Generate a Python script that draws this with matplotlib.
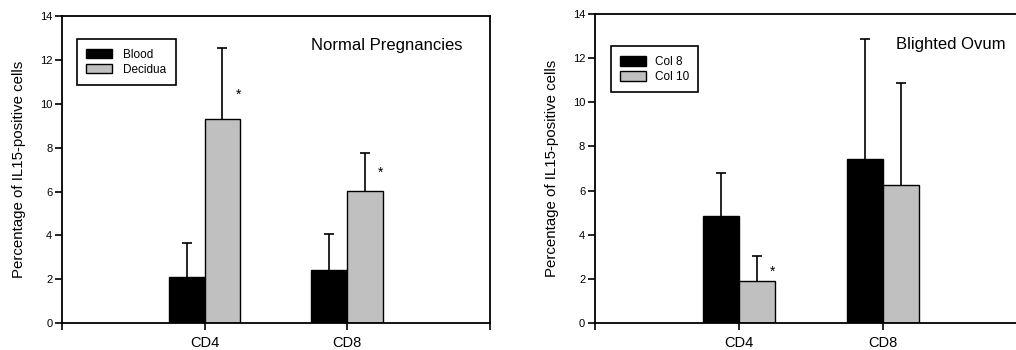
import matplotlib
matplotlib.use("Agg")
import matplotlib.pyplot as plt
import numpy as np

plt.rcParams['font.family'] = ['Liberation Sans', 'DejaVu Sans']

categories = ["CD4", "CD8"]

# Left panel: Normal Pregnancies
left_title = "Normal Pregnancies"
left_series = ["Blood", "Decidua"]
blood = [2.12, 2.40]
blood_err = [1.51, 1.68]
decidua = [9.30, 6.01]
decidua_err = [3.25, 1.73]
left_star_y = [10.4, 6.85]

# Right panel: Blighted Ovum
right_title = "Blighted Ovum"
right_series = ["Col 8", "Col 10"]
col8 = [4.83, 7.44]
col8_err = [1.96, 5.41]
col10 = [1.89, 6.24]
col10_err = [1.17, 4.62]
right_star_y = [2.34]

ylabel = "Percentage of IL15-positive cells"
yticks = [0, 2, 4, 6, 8, 10, 12, 14]

fig = plt.figure(figsize=(10.16, 3.5), dpi=100)

def upper_err(ax, xs, vals, errs):
    eb = ax.errorbar(xs, vals, yerr=[np.zeros(len(vals)), errs], fmt="none", ecolor="black",
                     elinewidth=1.2, capsize=3.5, capthick=1.2, zorder=1)
    caps = eb[1]
    if len(caps) >= 1:
        caps[0].set_visible(False)

def panel(rect, s1, e1, s2, e2, names, title, title_xy, legend_bbox, stars, star_idx, tpad):
    ax = fig.add_axes(rect)
    x = np.arange(1, len(categories) + 1)
    w = 0.25
    ax.bar(x - w / 2, s1, w, color="black", edgecolor="black", linewidth=1.0, label=names[0], zorder=2)
    ax.bar(x + w / 2, s2, w, color="#C0C0C0", edgecolor="black", linewidth=1.0, label=names[1], zorder=2)
    upper_err(ax, x - w / 2, s1, e1)
    upper_err(ax, x + w / 2, s2, e2)
    for i, sy in zip(star_idx, stars):
        ax.text(x[i] + w / 2 + 0.11, sy, "*", ha="center", va="center", fontsize=10)
    ax.set_xlim(0, 3)
    ax.set_ylim(0, 14)
    ax.set_yticks(yticks)
    ax.set_yticklabels([str(t) for t in yticks], fontsize=8)
    ax.set_xticks([0, 1, 2, 3])
    ax.set_xticklabels(["", categories[0], categories[1], ""], fontsize=10.5)
    ax.tick_params(axis="both", direction="out", length=5, width=1.2)
    ax.tick_params(axis="x", pad=4)
    ax.tick_params(axis="y", pad=2)
    for sp in ax.spines.values():
        sp.set_linewidth(1.3)
    ax.set_ylabel(ylabel, fontsize=10.8, labelpad=10)
    ax.text(title_xy[0], title_xy[1], title, transform=ax.transAxes, fontsize=12,
            ha="left", va="center")
    leg = ax.legend(loc="upper left", bbox_to_anchor=legend_bbox, fontsize=8.5,
                    fancybox=False, framealpha=1, edgecolor="black",
                    handlelength=2.2, handleheight=0.9, borderpad=0.8,
                    labelspacing=0.25, handletextpad=tpad, borderaxespad=0)
    leg.get_frame().set_linewidth(1.2)
    return ax

panel([0.061, 0.077, 0.421, 0.877], blood, blood_err, decidua, decidua_err,
      left_series, left_title, (0.582, 0.905), (0.035, 0.925), left_star_y, [0, 1], 0.9)
panel([0.5856, 0.077, 0.425, 0.883], col8, col8_err, col10, col10_err,
      right_series, right_title, (0.697, 0.90), (0.037, 0.895), right_star_y, [0], 0.7)

fig.savefig("out.png", dpi=100)
